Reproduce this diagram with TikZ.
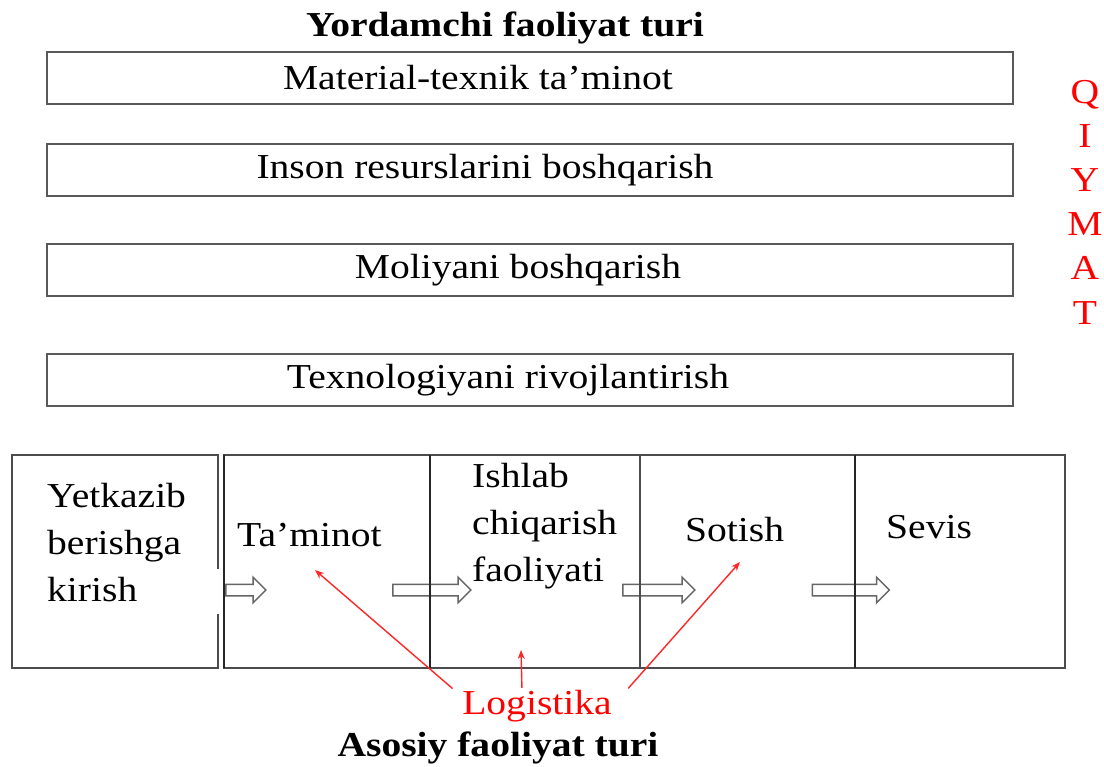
\documentclass[tikz,border=0pt]{standalone}
\usepackage{fontspec}
\setmainfont[FakeStretch=1.13]{Liberation Serif}
\usetikzlibrary{arrows.meta,positioning,shapes.arrows}
\tikzset{
    %Define standard arrow tip
    >={Stealth[length=9pt,width=7pt]},
    %Define style for boxes
    supportbox/.style={
           rectangle,
           draw=black!65, line width=2pt,
           minimum width=966pt,
           minimum height=52pt,
           inner sep=0pt, outer sep=0pt,
           },
    boxtext/.style={
           inner sep=0pt,
           font=\fontsize{35}{42}\selectfont,
           },
    cell/.style={
           rectangle,
           draw=black!70, line width=2pt,
           minimum height=213pt,
           inner sep=0pt, outer sep=0pt,
           },
    divider/.style={
           draw=black!85,
           line width=2.6pt,
           },
    celltext/.style={
           anchor=west,
           align=left,
           inner sep=0pt,
           font=\fontsize{35}{47}\selectfont,
           },
    heading/.style={
           inner sep=0pt,
           font=\bfseries\fontsize{35}{42}\selectfont,
           },
    redlabel/.style={
           inner sep=0pt,
           text=red,
           align=center,
           font=\fontsize{35}{44.2}\selectfont,
           },
    % Define arrow styles
    flow/.style={
           single arrow,
           draw=black!60, line width=1.5pt,
           inner xsep=0pt, inner ysep=5pt,
           single arrow head extend=7pt,
           },
    pil/.style={
           ->,
           red!85,
           line width=1.4pt,
           shorten <=2pt,},
}
\begin{document}
\begin{tikzpicture}[x=1pt,y=-1pt]
\useasboundingbox (0,0) rectangle (1104,767);
\node[heading](top) at (505,28){Yordamchi faoliyat turi};
\node[supportbox, label={[boxtext, xshift=-52pt]center:Material-texnik ta’minot}](b1) at (530,78){};
\node[supportbox, below=40pt of b1, label={[boxtext, xshift=-45pt]center:Inson resurslarini boshqarish}](b2){};
\node[supportbox, below=48pt of b2, label={[boxtext, xshift=-12pt]center:Moliyani boshqarish}](b3){};
\node[supportbox, below=58pt of b3, label={[boxtext, xshift=-22pt]center:Texnologiyani rivojlantirish}](b4){};
\node[redlabel](val) at (1085,202){Q\\I\\Y\\M\\A\\T};
% hollow arrows
\node[flow, minimum height=40pt](f1) at (243,590){};
\node[flow, minimum height=78pt](f2) at (429,590){};
\node[flow, minimum height=72pt](f3) at (656,590){};
\node[flow, minimum height=77pt](f4) at (848,590){};
% main chain
\node[cell, draw=none, minimum width=206pt](c1) at (115,561.5){};
\draw[draw=black!70, line width=2pt] ([yshift=-7pt]c1.east) -- (c1.north east) -- (c1.north west)
    -- (c1.south west) -- (c1.south east) -- ([yshift=-52pt]c1.east);
\node[cell, minimum width=206pt, right=6pt of c1](c2){};
\node[cell, minimum width=210pt, right=0pt of c2](c3){};
\node[cell, minimum width=215pt, right=0pt of c3](c4){};
\node[cell, minimum width=210pt, right=0pt of c4](c5){};
\draw[divider] (c2.north west) -- (c2.south west);
\draw[divider] (c3.north west) -- (c3.south west);
\draw[divider] (c5.north west) -- (c5.south west);
\node[celltext](t1) at (47,543){Yetkazib\\berishga\\kirish};
\node[celltext](t2) at (237,535){Ta’minot};
\node[celltext](t3) at (472,526){Ishlab\\chiqarish\\faoliyati};
\node[celltext](t4) at (685,530){Sotish};
\node[celltext](t5) at (886,527){Sevis};
\node[redlabel](logi) at (537,706){Logistika};
\node[heading](bottom) at (498,748){Asosiy faoliyat turi};
\coordinate (p1) at (315,570);
\coordinate (p2) at (521,650);
\coordinate (p3) at (740,562);
\draw[pil] ([xshift=-8pt]logi.north west) -- (p1);
\draw[pil] ([xshift=-15pt]logi.north) -- (p2);
\draw[pil] ([xshift=15pt]logi.north east) -- (p3);
\end{tikzpicture}
\end{document}
